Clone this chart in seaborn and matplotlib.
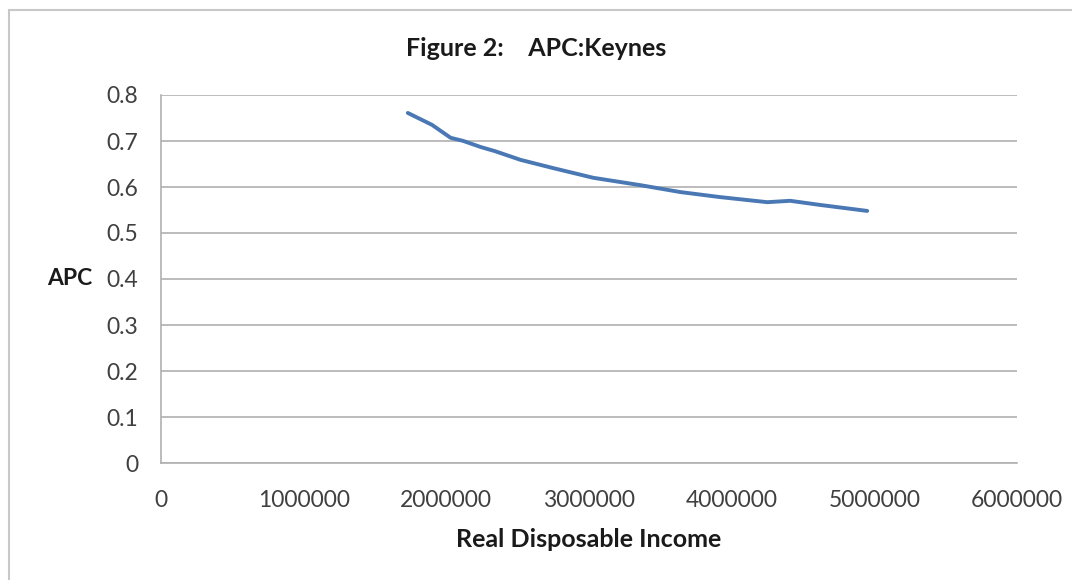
import matplotlib
matplotlib.use("Agg")
import matplotlib.pyplot as plt
from matplotlib.patches import Rectangle
import seaborn as sns
import pandas as pd

# Real disposable income and average propensity to consume
income = [1730000, 1900000, 2030000, 2120000, 2240000, 2340000, 2520000, 2750000,
          3030000, 3360000, 3640000, 3920000, 4250000, 4410000, 4620000, 4950000]
apc = [0.761, 0.735, 0.707, 0.700, 0.687, 0.678, 0.659, 0.641,
       0.620, 0.604, 0.589, 0.578, 0.567, 0.570, 0.561, 0.548]

x_ticks = [0, 1000000, 2000000, 3000000, 4000000, 5000000, 6000000]
y_ticks = [0, 0.1, 0.2, 0.3, 0.4, 0.5, 0.6, 0.7, 0.8]
y_tick_labels = ["0", "0.1", "0.2", "0.3", "0.4", "0.5", "0.6", "0.7", "0.8"]

df = pd.DataFrame({"income": income, "apc": apc})

sns.set_theme(style="white")
plt.rcParams["font.family"] = ["Lato", "DejaVu Sans"]

fig = plt.figure(figsize=(10.72, 5.8), dpi=100)
ax = fig.add_axes([161 / 1072, 1 - 463 / 580, (1017 - 161) / 1072, (463 - 95) / 580])

# outer chart border
fig.patches.append(Rectangle((9 / 1072, -0.05), 1.2, 1 - 10 / 580 + 0.05,
                             transform=fig.transFigure, fill=False,
                             edgecolor="#c8c8c8", linewidth=1.5))

sns.lineplot(data=df, x="income", y="apc", ax=ax, color="#4a78b4", linewidth=2.8)

ax.set_xlim(0, 6000000)
ax.set_ylim(0, 0.8)
ax.set_xticks(x_ticks)
ax.set_xticklabels([str(v) for v in x_ticks])
ax.set_yticks(y_ticks)
ax.set_yticklabels(y_tick_labels)

ax.yaxis.grid(True, color="#b0b0b0", linewidth=1.2)
ax.xaxis.grid(False)
for side in ["top", "right"]:
    ax.spines[side].set_visible(False)
for side in ["left", "bottom"]:
    ax.spines[side].set_color("#b0b0b0")
    ax.spines[side].set_linewidth(1.2)

ax.tick_params(axis="both", which="both", direction="out", length=6.5, width=1.2,
               color="#b0b0b0", labelcolor="#404040", labelsize=16.5)
ax.tick_params(axis="x", pad=13)
ax.tick_params(axis="y", pad=10)

ax.set_xlabel("Real Disposable Income", fontsize=18, fontweight="bold",
              color="#1a1a1a", labelpad=12.5)
ax.set_ylabel("APC", fontsize=16.5, fontweight="bold", color="#1a1a1a",
              rotation=0, ha="right", va="center")
ax.yaxis.set_label_coords(-0.0806, 0.5)

fig.text(0.5, 1 - 48 / 580, "Figure 2:    APC:Keynes", ha="center", va="center",
         fontsize=18, fontweight="bold", color="#1a1a1a")

fig.savefig("out.png", dpi=100, facecolor="white")
